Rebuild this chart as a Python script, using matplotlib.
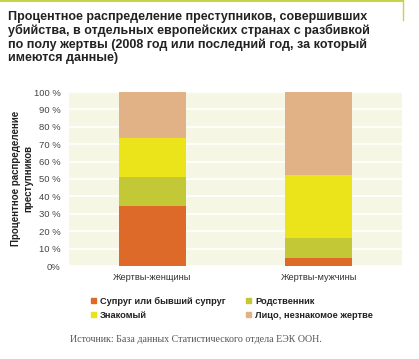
import numpy as np
import matplotlib.pyplot as plt
from matplotlib.patches import Rectangle

categories = ['Жертвы-женщины', 'Жертвы-мужчины']
series = ['Супруг или бывший супруг', 'Родственник', 'Знакомый', 'Лицо, незнакомое жертве']
spouse = [34.6, 4.8]
relative = [16.7, 11.5]
acquaintance = [22.1, 36.0]
stranger = [26.6, 47.7]
colors = ['#DD6A29', '#C3C936', '#EBE41A', '#E2B287']
tick_labels = ['0%', '10 %', '20 %', '30 %', '40 %', '50 %', '60 %', '70 %', '80 %', '90 %', '100 %']

title = ('Процентное распределение преступников, совершивших\n'
         'убийства, в отдельных европейских странах с разбивкой\n'
         'по полу жертвы (2008 год или последний год, за который\n'
         'имеются данные)')

plt.rcParams['font.family'] = ['Liberation Sans', 'DejaVu Sans']

W, H = 419, 359
fig = plt.figure(figsize=(W / 100, H / 100), dpi=100)
ax = fig.add_axes([69 / W, 1 - 266 / H, 333 / W, 174 / H])
ax.set_facecolor('#F5F7E4')

x = np.arange(len(categories))
bottom = np.zeros(len(categories))
for vals, c in zip([spouse, relative, acquaintance, stranger], colors):
    ax.bar(x, vals, width=0.4, bottom=bottom, color=c, zorder=3)
    bottom += np.array(vals)

ax.set_xlim(-0.5, 1.5)
ax.set_ylim(0, 100)
ax.set_yticks(np.arange(0, 101, 10))
ax.set_yticklabels(tick_labels, fontsize=6.8, color='#444444')
ax.set_xticks(x)
ax.set_xticklabels(categories, fontsize=6.7, color='#333333')
ax.tick_params(length=0, pad=6)
ax.tick_params(axis='x', pad=5)
ax.grid(axis='y', color='white', linewidth=1.2, zorder=1)
for s in ax.spines.values():
    s.set_visible(False)

fig.text(22 / W, 1 - 178 / H, 'Процентное распределение\nпреступников', fontsize=7,
         fontweight='bold', rotation=90, ha='center', va='center',
         linespacing=1.3, multialignment='center', color='#222222')

fig.text(8 / W, 1 - 11 / H, title, fontsize=9, fontweight='bold',
         color='#222222', va='top', ha='left', linespacing=1.12)

# legend
leg_pos = [(91, 300), (246, 300), (91, 314), (246, 314)]
for (lx, ly), lab, c in zip(leg_pos, series, colors):
    fig.patches.append(Rectangle((lx / W, 1 - (ly + 2.5) / H), 5 / W, 5 / H,
                                 transform=fig.transFigure, color=c))
    fig.text((lx + 9) / W, 1 - ly / H, lab, fontsize=6.7, fontweight='bold',
             color='#222222', va='center_baseline', ha='left')

fig.text(70 / W, 1 - 340 / H, 'Источник: База данных Статистического отдела ЕЭК ООН.',
         fontsize=7.2, family='Liberation Serif', color='#555555', va='center')

# decoration lines at top
fig.add_artist(plt.Line2D([0, 403 / W], [1 - 1 / H, 1 - 1 / H], color='#C8D24A',
                          linewidth=1.5, transform=fig.transFigure))
fig.add_artist(plt.Line2D([403 / W, 403 / W], [1, 1 - 20 / H], color='#C8D24A',
                          linewidth=1, transform=fig.transFigure))

fig.savefig('out.png', dpi=100)
